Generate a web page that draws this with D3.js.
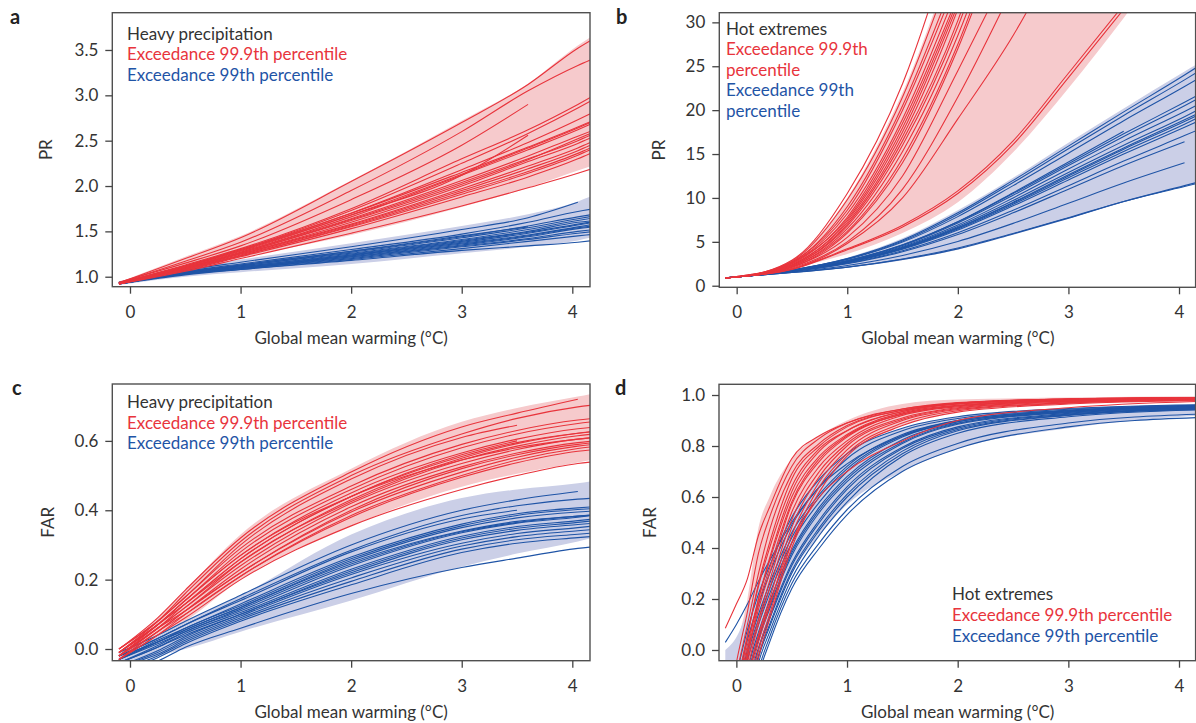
<!DOCTYPE html>
<html>
<head>
<meta charset="utf-8">
<script src="https://cdn.jsdelivr.net/npm/d3@7"></script>
<style>
  body { margin: 0; background: #fff; }
  text { font-family: Lato, sans-serif; }
</style>
</head>
<body>
<svg id="chart" width="1196" height="723"></svg>
<script>
// x positions (global mean warming, °C) where each model curve was read
const gridA = [-0.1, 0.5, 1, 2, 3, 3.6, 4.05, 4.2];
const gridB = [-0.1, 0, 0.5, 1, 1.5, 2, 2.5, 3, 3.5, 4.05, 4.2];
const gridC = [-0.1, 0.25, 0.5, 1, 2, 3, 3.5, 4.05, 4.2];
const gridD = [-0.1, 0, 0.1, 0.2, 0.3, 0.5, 0.75, 1, 1.5, 2, 3, 4.2];

const xTicks = [0, 1, 2, 3, 4];
const prTicksA = [1.0, 1.5, 2.0, 2.5, 3.0, 3.5];
const prTicksB = [0, 5, 10, 15, 20, 25, 30];
const farTicksC = [0.0, 0.2, 0.4, 0.6];
const farTicksD = [0.0, 0.2, 0.4, 0.6, 0.8, 1.0];

// panel a: PR, heavy precipitation
const aRedHigh = [0.94, 1.22, 1.45, 2.06, 2.72, 3.13, 3.55, 3.67];
const aRedLow = [0.92, 1.08, 1.21, 1.46, 1.77, 1.98, 2.17, 2.23];
const aBlueHigh = [0.95, 1.10, 1.19, 1.37, 1.56, 1.69, 1.83, 1.90];
const aBlueLow = [0.91, 1.00, 1.05, 1.14, 1.26, 1.33, 1.40, 1.44];
const aRedLines = [
  [0.93, 1.20, 1.43, 2.05, 2.70, 3.12, 3.52, 3.63],
  [0.93, 1.17, 1.38, 1.95, 2.60, 3.05, 3.33, 3.41],
  [0.94, 1.15, 1.34, 1.85, 2.45, 2.90],
  [0.93, 1.13, 1.31, 1.75, 2.30, 2.62, 2.90, 3.00],
  [0.93, 1.12, 1.30, 1.73, 2.25, 2.58, 2.86, 2.96],
  [0.92, 1.11, 1.29, 1.70, 2.18, 2.48, 2.73, 2.82],
  [0.93, 1.12, 1.30, 1.70, 2.15, 2.43, 2.65, 2.73],
  [0.92, 1.11, 1.28, 1.68, 2.13, 2.42, 2.64, 2.72],
  [0.93, 1.10, 1.27, 1.66, 2.12, 2.40, 2.62, 2.70],
  [0.92, 1.10, 1.27, 1.64, 2.06, 2.33, 2.55, 2.62],
  [0.93, 1.12, 1.29, 1.68, 2.12, 2.56],
  [0.93, 1.10, 1.26, 1.63, 2.04, 2.30, 2.50, 2.58],
  [0.92, 1.09, 1.26, 1.62, 2.02, 2.29, 2.52, 2.60],
  [0.92, 1.09, 1.25, 1.60, 2.00, 2.27, 2.47, 2.55],
  [0.93, 1.09, 1.25, 1.58, 1.97, 2.22, 2.42, 2.50],
  [0.92, 1.08, 1.24, 1.57, 1.95, 2.19, 2.39, 2.47],
  [0.93, 1.08, 1.23, 1.56, 1.93, 2.16, 2.36, 2.44],
  [0.92, 1.08, 1.23, 1.55, 1.91, 2.14, 2.34, 2.42],
  [0.93, 1.07, 1.22, 1.53, 1.88, 2.10, 2.30, 2.38],
  [0.92, 1.06, 1.20, 1.48, 1.78, 1.98, 2.14, 2.20]
];
const aBlueLines = [
  [0.93, 1.07, 1.16, 1.33, 1.52, 1.65, 1.82],
  [0.93, 1.06, 1.14, 1.30, 1.47, 1.60, 1.72, 1.75],
  [0.94, 1.05, 1.13, 1.28, 1.44, 1.56, 1.66, 1.69],
  [0.93, 1.05, 1.12, 1.27, 1.43, 1.54, 1.64, 1.67],
  [0.93, 1.05, 1.12, 1.26, 1.41, 1.52, 1.62, 1.65],
  [0.92, 1.04, 1.11, 1.25, 1.40, 1.50, 1.60, 1.62],
  [0.93, 1.04, 1.11, 1.24, 1.38, 1.48, 1.57, 1.60],
  [0.92, 1.04, 1.10, 1.23, 1.37, 1.46, 1.55, 1.58],
  [0.93, 1.03, 1.10, 1.22, 1.35, 1.44, 1.53, 1.55],
  [0.92, 1.03, 1.09, 1.21, 1.34, 1.42, 1.50, 1.52],
  [0.93, 1.03, 1.09, 1.20, 1.33, 1.41, 1.48, 1.50],
  [0.92, 1.02, 1.08, 1.18, 1.29, 1.34, 1.38, 1.40],
  [0.93, 1.05, 1.13, 1.28, 1.45, 1.55],
  [0.92, 1.04, 1.10, 1.24, 1.39, 1.49, 1.58, 1.61],
  [0.93, 1.03, 1.09, 1.22, 1.36, 1.45, 1.54, 1.56],
  [0.92, 1.03, 1.08, 1.19, 1.31, 1.39, 1.45, 1.47]
];

// panel b: PR, hot extremes
const bRedHigh = [0.95, 1.05, 3.0, 10.0, 22.0, 38, 50, 60, 70, 80, 82];
const bRedLow = [0.85, 0.95, 2.0, 3.6, 6.0, 9.5, 15.2, 22.5, 30.5, 40, 42];
const bBlueHigh = [0.95, 1.05, 1.85, 3.2, 5.4, 8.6, 12.3, 16.3, 20.2, 24.4, 25.5];
const bBlueLow = [0.85, 0.95, 1.45, 2.05, 2.9, 4.1, 5.8, 7.6, 9.5, 11.4, 11.8];
const bRedLines = [
  [0.9, 1.0, 2.9, 10.5, 23.0, 42],
  [0.9, 1.0, 2.8, 9.8, 21.5, 38],
  [0.9, 1.05, 2.7, 9.0, 20.5, 36],
  [0.9, 1.0, 2.7, 8.6, 20.0, 35],
  [0.9, 1.0, 2.6, 8.2, 19.0, 34],
  [0.9, 1.0, 2.5, 7.8, 18.5, 33],
  [0.9, 1.0, 2.6, 7.6, 18.0, 32.5],
  [0.9, 1.05, 2.4, 7.4, 17.5, 32],
  [0.9, 1.0, 2.4, 7.2, 17.0, 31.5, 50],
  [0.9, 1.0, 2.3, 7.0, 16.5, 30.2, 50],
  [0.9, 1.0, 2.3, 6.8, 16.0, 29.5, 48],
  [0.9, 1.0, 2.2, 6.5, 15.3, 28.5, 46],
  [0.9, 1.0, 2.2, 6.2, 14.5, 27.5, 45],
  [0.9, 1.0, 2.1, 6.0, 14.0, 27.0, 44],
  [0.9, 1.0, 2.1, 5.5, 12.5, 24.5, 37],
  [0.9, 1.0, 2.0, 5.0, 11.0, 21.5, 34],
  [0.9, 1.0, 1.9, 4.8, 10.0, 19.0, 28.5, 40],
  [0.9, 1.0, 1.9, 4.2, 6.9, 10.8, 16.5, 24.2, 32],
  [0.9, 1.0, 1.85, 4.1, 6.7, 10.5, 16.1, 23.7, 31.5]
];
const bBlueLines = [
  [0.9, 1.0, 1.8, 3.1, 5.2, 8.3, 12.0, 15.9, 19.8, 24.0, 25.2],
  [0.9, 1.0, 1.79, 3.06, 5.1, 8.12, 11.75, 15.6, 19.4, 23.45, 24.6],
  [0.9, 1.0, 1.77, 3.0, 4.97, 7.87, 11.4, 15.1, 18.8, 22.7, 23.8],
  [0.9, 1.0, 1.73, 2.85, 4.65, 7.28, 10.5, 13.9, 17.3, 20.9, 21.9],
  [0.9, 1.0, 1.72, 2.82, 4.58, 7.15, 10.3, 13.7, 17.0, 20.5, 21.5],
  [0.9, 1.0, 1.7, 2.77, 4.47, 6.93, 10.0, 13.3, 16.5, 19.85, 20.8],
  [0.9, 1.0, 1.69, 2.72, 4.37, 6.75, 9.7, 12.9, 16.0, 19.25, 20.2],
  [0.9, 1.0, 1.68, 2.69, 4.3, 6.62, 9.5, 12.65, 15.7, 18.9, 19.8],
  [0.9, 1.0, 1.67, 2.68, 4.27, 6.56, 9.42, 12.5, 15.55, 18.7, 19.6],
  [0.9, 1.0, 1.67, 2.65, 4.22, 6.47, 9.28, 12.3, 15.3, 18.4, 19.3],
  [0.9, 1.0, 1.66, 2.62, 4.15, 6.34, 9.1, 12.05, 15.0, 18.05, 18.9],
  [0.9, 1.0, 1.73, 2.86, 4.67, 7.3, 10.6, 14.1, 17.6],
  [0.9, 1.0, 1.62, 2.5, 3.87, 5.83, 8.3, 11.0, 13.7, 16.4],
  [0.9, 1.0, 1.56, 2.31, 3.45, 5.04, 7.1, 9.4, 11.7, 14.0],
  [0.9, 1.0, 1.63, 2.55, 3.98, 6.03, 8.6, 11.4, 14.2, 17.1, 17.9],
  [0.9, 1.0, 1.5, 2.1, 3.0, 4.2, 5.9, 7.7, 9.6, 11.4, 11.9],
  [0.9, 1.0, 1.5, 2.12, 3.05, 4.3, 5.95, 7.75, 9.6, 11.3, 11.75]
];

// panel c: FAR, heavy precipitation
const cRedHigh = [-0.01, 0.09, 0.17, 0.33, 0.52, 0.655, 0.695, 0.728, 0.737];
const cRedLow = [-0.04, 0.03, 0.08, 0.2, 0.355, 0.468, 0.505, 0.538, 0.546];
const cBlueHigh = [-0.01, 0.04, 0.08, 0.155, 0.33, 0.435, 0.46, 0.478, 0.485];
const cBlueLow = [-0.05, -0.02, 0.0, 0.05, 0.14, 0.237, 0.275, 0.31, 0.322];
const cRedLines = [
  [0.0, 0.09, 0.17, 0.32, 0.51, 0.64, 0.68, 0.72],
  [-0.01, 0.08, 0.16, 0.31, 0.5, 0.62, 0.665, 0.698, 0.704],
  [0.0, 0.08, 0.15, 0.29, 0.47, 0.59, 0.63, 0.66, 0.665],
  [-0.01, 0.07, 0.14, 0.28, 0.46, 0.58, 0.62, 0.65, 0.656],
  [0.0, 0.08, 0.15, 0.3, 0.49, 0.61, 0.645],
  [-0.01, 0.07, 0.14, 0.27, 0.45, 0.565, 0.605, 0.635, 0.64],
  [-0.02, 0.06, 0.13, 0.26, 0.44, 0.555, 0.595, 0.622, 0.627],
  [-0.01, 0.07, 0.13, 0.25, 0.43, 0.55, 0.592, 0.622, 0.628],
  [-0.02, 0.06, 0.12, 0.25, 0.425, 0.545, 0.585, 0.615, 0.62],
  [-0.02, 0.06, 0.12, 0.24, 0.42, 0.535, 0.575, 0.605, 0.61],
  [-0.01, 0.07, 0.13, 0.26, 0.44, 0.56, 0.6],
  [-0.03, 0.05, 0.11, 0.23, 0.41, 0.525, 0.565, 0.595, 0.6],
  [-0.02, 0.05, 0.11, 0.22, 0.4, 0.52, 0.56, 0.59, 0.595],
  [-0.02, 0.06, 0.11, 0.22, 0.395, 0.51, 0.553, 0.585, 0.59],
  [-0.03, 0.05, 0.1, 0.21, 0.385, 0.5, 0.545, 0.578, 0.584],
  [-0.03, 0.04, 0.1, 0.21, 0.38, 0.495, 0.537, 0.57, 0.575],
  [-0.03, 0.04, 0.09, 0.2, 0.355, 0.46, 0.5, 0.535, 0.54],
  [-0.02, 0.07, 0.14, 0.27, 0.44, 0.545, 0.58, 0.605, 0.61]
];
const cBlueLines = [
  [-0.01, 0.04, 0.08, 0.155, 0.3, 0.4, 0.43, 0.454],
  [-0.02, 0.03, 0.07, 0.145, 0.285, 0.385, 0.413, 0.432, 0.435],
  [-0.02, 0.03, 0.07, 0.14, 0.28, 0.375, 0.4],
  [-0.03, 0.025, 0.06, 0.13, 0.265, 0.36, 0.39, 0.407, 0.41],
  [-0.02, 0.02, 0.06, 0.125, 0.26, 0.355, 0.385, 0.402, 0.405],
  [-0.03, 0.02, 0.055, 0.12, 0.25, 0.34, 0.368, 0.383, 0.386],
  [-0.04, 0.01, 0.05, 0.11, 0.24, 0.335, 0.363, 0.38, 0.386],
  [-0.03, 0.015, 0.05, 0.115, 0.245, 0.338, 0.365, 0.383, 0.387],
  [-0.04, 0.005, 0.045, 0.105, 0.23, 0.325, 0.353, 0.37, 0.375],
  [-0.05, -0.005, 0.035, 0.1, 0.22, 0.315, 0.342, 0.359, 0.363],
  [-0.05, -0.01, 0.03, 0.095, 0.215, 0.305, 0.333, 0.35, 0.355],
  [-0.05, -0.015, 0.025, 0.09, 0.205, 0.297, 0.324, 0.341, 0.345],
  [-0.06, -0.02, 0.02, 0.085, 0.195, 0.288, 0.315, 0.331, 0.335],
  [-0.06, -0.025, 0.015, 0.08, 0.185, 0.278, 0.305, 0.321, 0.325],
  [-0.07, -0.035, 0.005, 0.06, 0.16, 0.235, 0.262, 0.29, 0.295],
  [-0.04, 0.005, 0.04, 0.1, 0.225, 0.32, 0.348, 0.365, 0.37],
  [-0.03, 0.02, 0.055, 0.12, 0.255, 0.35, 0.378, 0.395, 0.398]
];

// panel d: FAR, hot extremes
const dRedHigh = [-0.1, 0.02, 0.2, 0.48, 0.6, 0.75, 0.84, 0.9, 0.965, 0.982, 0.99, 0.995];
const dRedLow = [-0.2, -0.1, -0.02, 0.05, 0.18, 0.42, 0.64, 0.76, 0.88, 0.935, 0.967, 0.976];
const dBlueHigh = [0.0, 0.05, 0.15, 0.27, 0.37, 0.53, 0.67, 0.77, 0.87, 0.915, 0.947, 0.962];
const dBlueLow = [-0.3, -0.15, -0.05, 0.03, 0.12, 0.3, 0.45, 0.57, 0.7, 0.79, 0.87, 0.92];
const dRedLines = [
  [0.085, 0.18, 0.28, 0.45, 0.56, 0.75, 0.84, 0.89, 0.945, 0.968, 0.984, 0.99],
  [-0.3, -0.05, 0.15, 0.38, 0.52, 0.72, 0.83, 0.89, 0.945, 0.97, 0.985, 0.99],
  [-0.35, -0.1, 0.1, 0.3, 0.47, 0.69, 0.81, 0.88, 0.94, 0.967, 0.984, 0.99],
  [-0.4, -0.15, 0.06, 0.25, 0.4, 0.64, 0.79, 0.86, 0.935, 0.964, 0.982, 0.988],
  [-0.45, -0.2, 0.02, 0.2, 0.35, 0.6, 0.76, 0.845, 0.93, 0.96, 0.98, 0.988],
  [-0.5, -0.25, -0.02, 0.16, 0.3, 0.57, 0.74, 0.835, 0.925, 0.957, 0.978, 0.986],
  [-0.55, -0.3, -0.05, 0.12, 0.27, 0.54, 0.72, 0.82, 0.92, 0.954, 0.977, 0.985],
  [-0.6, -0.35, -0.08, 0.1, 0.24, 0.51, 0.7, 0.81, 0.91, 0.95, 0.975, 0.984],
  [-0.6, -0.4, -0.12, 0.06, 0.2, 0.48, 0.68, 0.8, 0.905, 0.947, 0.973, 0.983],
  [-0.7, -0.45, -0.15, 0.03, 0.17, 0.45, 0.66, 0.785, 0.9, 0.943, 0.97, 0.982],
  [-0.7, -0.5, -0.2, 0.0, 0.14, 0.42, 0.64, 0.77, 0.89, 0.938, 0.968, 0.98],
  [-0.8, -0.55, -0.25, -0.03, 0.12, 0.4, 0.62, 0.76, 0.88, 0.933, 0.965, 0.978],
  [-0.6, -0.4, -0.12, 0.05, 0.18, 0.42, 0.6, 0.7, 0.82, 0.9, 0.95, 0.975],
  [-0.5, -0.25, 0.0, 0.2, 0.36, 0.62, 0.78, 0.86, 0.935, 0.965, 0.982, 0.989],
  [-0.45, -0.2, 0.05, 0.26, 0.42, 0.67, 0.8, 0.875, 0.94, 0.968, 0.984, 0.99],
  [-0.6, -0.3, -0.03, 0.18, 0.32, 0.58, 0.75, 0.84, 0.925, 0.958, 0.979, 0.987]
];
const dBlueLines = [
  [0.03, 0.1, 0.18, 0.27, 0.35, 0.5, 0.64, 0.73, 0.84, 0.895, 0.937, 0.958],
  [-0.3, -0.1, 0.08, 0.22, 0.33, 0.52, 0.67, 0.77, 0.87, 0.915, 0.947, 0.962],
  [-0.35, -0.15, 0.04, 0.18, 0.3, 0.49, 0.64, 0.75, 0.86, 0.908, 0.944, 0.96],
  [-0.4, -0.2, 0.0, 0.14, 0.26, 0.46, 0.61, 0.72, 0.845, 0.9, 0.94, 0.958],
  [-0.45, -0.25, -0.04, 0.1, 0.22, 0.42, 0.58, 0.7, 0.835, 0.895, 0.938, 0.956],
  [-0.5, -0.3, -0.08, 0.07, 0.19, 0.39, 0.56, 0.68, 0.825, 0.89, 0.935, 0.954],
  [-0.55, -0.35, -0.12, 0.04, 0.16, 0.37, 0.54, 0.66, 0.81, 0.885, 0.932, 0.952],
  [-0.6, -0.4, -0.15, 0.01, 0.13, 0.34, 0.51, 0.64, 0.795, 0.875, 0.928, 0.95],
  [-0.65, -0.45, -0.2, -0.02, 0.1, 0.31, 0.48, 0.61, 0.78, 0.865, 0.922, 0.946],
  [-0.7, -0.5, -0.25, -0.05, 0.07, 0.28, 0.45, 0.58, 0.76, 0.85, 0.915, 0.942],
  [-0.75, -0.55, -0.3, -0.08, 0.05, 0.26, 0.42, 0.55, 0.72, 0.81, 0.89, 0.925],
  [-0.8, -0.6, -0.32, -0.1, 0.03, 0.24, 0.4, 0.53, 0.7, 0.79, 0.875, 0.912],
  [-0.45, -0.25, -0.02, 0.12, 0.24, 0.44, 0.6, 0.71, 0.84, 0.9, 0.94, 0.957],
  [-0.55, -0.35, -0.1, 0.05, 0.17, 0.38, 0.55, 0.67, 0.815, 0.888, 0.933, 0.953],
  [-0.65, -0.45, -0.18, 0.0, 0.12, 0.33, 0.5, 0.63, 0.79, 0.87, 0.925, 0.948],
  [-0.7, -0.5, -0.22, -0.03, 0.09, 0.3, 0.47, 0.6, 0.77, 0.86, 0.92, 0.944]
];

const RED = "#e8343c", RED_BAND = "#f6cacc";
const BLUE = "#1f54a6", BLUE_BAND = "#cbcfe7";
const INK = "#333";
const FONT_SIZE = 17;

const svg = d3.select("#chart");

function drawPanel(p) {
  // scales
  let x = d3.scaleLinear().domain(p.xDomain).range([p.left, p.right]);
  let y = d3.scaleLinear().domain(p.yDomain).range([p.bottom, p.top]);

  // clip everything inside the frame
  svg.append("clipPath").attr("id", "clip_" + p.id)
    .append("rect")
      .attr("x", p.left).attr("y", p.top)
      .attr("width", p.right - p.left).attr("height", p.bottom - p.top);

  let plot = svg.append("g").attr("clip-path", "url(#clip_" + p.id + ")");

  let band = d3.area()
    .curve(d3.curveMonotoneX)
    .x((d, i) => x(p.grid[i]))
    .y0(d => y(d[0]))
    .y1(d => y(d[1]));

  let line = d3.line()
    .defined(v => v != null)
    .curve(d3.curveMonotoneX)
    .x((v, i) => x(p.grid[i]))
    .y(v => y(v));

  // model spread bands
  plot.append("path").datum(d3.zip(p.redLow, p.redHigh))
    .attr("fill", RED_BAND).attr("d", band);
  plot.append("path").datum(d3.zip(p.blueLow, p.blueHigh))
    .attr("fill", BLUE_BAND).attr("d", band);

  // individual model curves
  plot.selectAll("path.blue").data(p.blueLines).enter().append("path")
    .attr("class", "blue")
    .attr("fill", "none").attr("stroke", BLUE).attr("stroke-width", 1.1)
    .attr("d", line);
  plot.selectAll("path.red").data(p.redLines).enter().append("path")
    .attr("class", "red")
    .attr("fill", "none").attr("stroke", RED).attr("stroke-width", 1.1)
    .attr("d", line);

  // frame
  svg.append("rect")
    .attr("x", p.left).attr("y", p.top)
    .attr("width", p.right - p.left).attr("height", p.bottom - p.top)
    .attr("fill", "none").attr("stroke", "#505050").attr("stroke-width", 1.4);

  // axes
  let xAxis = svg.append("g")
    .attr("transform", "translate(0," + p.bottom + ")")
    .call(d3.axisBottom(x).tickValues(xTicks).tickSize(7).tickPadding(12).tickFormat(d3.format("d")));
  let yAxis = svg.append("g")
    .attr("transform", "translate(" + p.left + ",0)")
    .call(d3.axisLeft(y).tickValues(p.yTicks).tickSize(7).tickPadding(7).tickFormat(d3.format(p.yFormat)));
  [xAxis, yAxis].forEach(ax => {
    ax.select(".domain").remove();
    ax.attr("font-size", FONT_SIZE).attr("font-family", "Lato, sans-serif").attr("color", "#444");
    ax.selectAll("line").attr("stroke-width", 1.3);
    ax.selectAll("text").attr("fill", INK);
  });

  // axis titles
  svg.append("text")
    .attr("x", x(2)).attr("y", p.bottom + 57)
    .attr("text-anchor", "middle").attr("font-size", FONT_SIZE).attr("fill", INK)
    .text("Global mean warming (°C)");
  svg.append("text")
    .attr("transform", "translate(" + p.yLabelX + "," + (p.top + p.bottom) / 2 + ") rotate(-90)")
    .attr("text-anchor", "middle").attr("font-size", FONT_SIZE).attr("fill", INK)
    .text(p.yLabel);

  // panel letter
  svg.append("text")
    .attr("x", p.letterX).attr("y", p.top + 11)
    .attr("font-size", 20).attr("font-weight", "bold").attr("fill", "#222")
    .text(p.id);

  // legend: one text block, one tspan per row
  svg.append("text")
    .attr("font-size", FONT_SIZE)
    .selectAll("tspan").data(p.legend).enter().append("tspan")
      .attr("x", p.legendX).attr("y", (d, i) => p.legendY + i * p.legendStep)
      .attr("fill", d => d[1])
      .text(d => d[0]);
}

drawPanel({
  id: "a", grid: gridA, left: 112.3, right: 590, top: 12.7, bottom: 286.7,
  xDomain: [-0.16, 4.16], yDomain: [0.89, 3.911], yTicks: prTicksA, yFormat: ".1f",
  redHigh: aRedHigh, redLow: aRedLow, blueHigh: aBlueHigh, blueLow: aBlueLow,
  redLines: aRedLines, blueLines: aBlueLines,
  yLabel: "PR", yLabelX: 52, letterX: 10,
  legendX: 127, legendY: 39.5, legendStep: 20.6,
  legend: [["Heavy precipitation", INK], ["Exceedance 99.9th percentile", RED], ["Exceedance 99th percentile", BLUE]]
});

drawPanel({
  id: "b", grid: gridB, left: 719.3, right: 1195.6, top: 12.7, bottom: 287.3,
  xDomain: [-0.157, 4.15], yDomain: [-0.18, 31.1], yTicks: prTicksB, yFormat: "d",
  redHigh: bRedHigh, redLow: bRedLow, blueHigh: bBlueHigh, blueLow: bBlueLow,
  redLines: bRedLines, blueLines: bBlueLines,
  yLabel: "PR", yLabelX: 665, letterX: 616,
  legendX: 726, legendY: 34.5, legendStep: 20.6,
  legend: [["Hot extremes", INK], ["Exceedance 99.9th", RED], ["percentile", RED],
           ["Exceedance 99th", BLUE], ["percentile", BLUE]]
});

drawPanel({
  id: "c", grid: gridC, left: 112.3, right: 590, top: 384, bottom: 660.7,
  xDomain: [-0.16, 4.16], yDomain: [-0.0337, 0.764], yTicks: farTicksC, yFormat: ".1f",
  redHigh: cRedHigh, redLow: cRedLow, blueHigh: cBlueHigh, blueLow: cBlueLow,
  redLines: cRedLines, blueLines: cBlueLines,
  yLabel: "FAR", yLabelX: 54, letterX: 12,
  legendX: 127, legendY: 408, legendStep: 20.6,
  legend: [["Heavy precipitation", INK], ["Exceedance 99.9th percentile", RED], ["Exceedance 99th percentile", BLUE]]
});

drawPanel({
  id: "d", grid: gridD, left: 719, right: 1195.6, top: 384.3, bottom: 660.7,
  xDomain: [-0.157, 4.15], yDomain: [-0.042, 1.042], yTicks: farTicksD, yFormat: ".1f",
  redHigh: dRedHigh, redLow: dRedLow, blueHigh: dBlueHigh, blueLow: dBlueLow,
  redLines: dRedLines, blueLines: dBlueLines,
  yLabel: "FAR", yLabelX: 656, letterX: 615,
  legendX: 952, legendY: 600, legendStep: 20.8,
  legend: [["Hot extremes", INK], ["Exceedance 99.9th percentile", RED], ["Exceedance 99th percentile", BLUE]]
});
</script>
</body>
</html>
